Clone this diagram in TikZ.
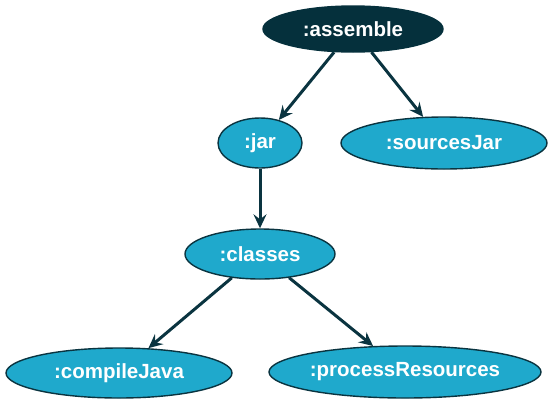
\documentclass[tikz,border=0pt]{standalone}
\usepackage{fontspec}
\setmainfont{Liberation Sans}
\usetikzlibrary{arrows.meta, shapes.geometric}
\definecolor{taskdark}{HTML}{05303C}
\definecolor{taskcyan}{HTML}{1FA9CC}
\definecolor{edgecol}{HTML}{0A3440}
\begin{document}
\begin{tikzpicture}[x=1pt, y=-1pt, >={Stealth[length=14pt, width=13pt, inset=5pt]}]
        % Rahmen
        \useasboundingbox (0,0) rectangle (551,408);

        % Stile
        \tikzset{
            task/.style={ellipse, draw=edgecol, line width=1.4pt, fill=taskcyan, text=white,
                inner sep=0pt, font=\fontsize{20.5}{24}\selectfont\bfseries},
            root/.style={task, fill=taskdark, draw=taskdark},
            dep/.style={->, draw=edgecol, line width=3pt}
        }

        % Knoten
        \node[root, minimum width=180pt, minimum height=46pt] (assemble) at (353, 29) {:assemble};
        \node[task, minimum width=84pt, minimum height=50pt] (jar) at (260, 143) {:jar};
        \node[task, minimum width=206pt, minimum height=52pt] (sourcesJar) at (444, 143) {:sourcesJar};
        \node[task, minimum width=150pt, minimum height=50pt] (classes) at (260, 254) {:classes};
        \node[task, minimum width=226pt, minimum height=50pt] (compileJava) at (119, 373) {:compileJava};
        \node[task, minimum width=272pt, minimum height=52pt] (processResources) at (405, 372) {:processResources};

        % Abhaengigkeiten
        \draw[dep] (assemble) -- (jar);
        \draw[dep] (assemble) -- (sourcesJar);
        \draw[dep] (jar) -- (classes);
        \draw[dep] (classes) -- (compileJava);
        \draw[dep] (classes) -- (processResources);

    \end{tikzpicture}
\end{document}
